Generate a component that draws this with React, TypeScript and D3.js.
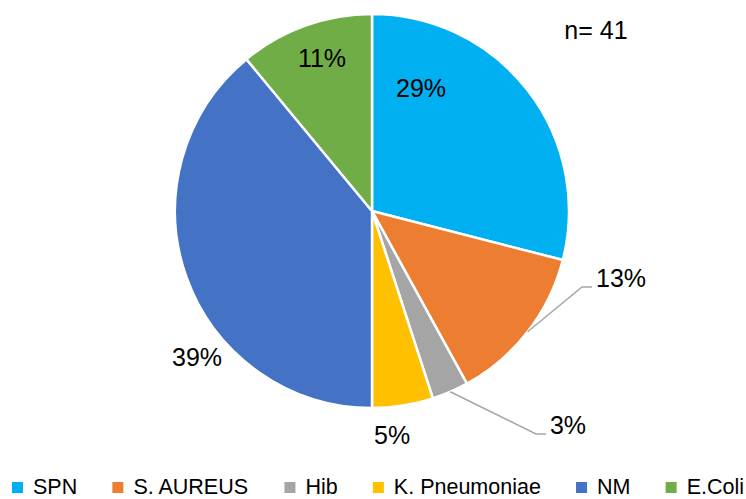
import React from "react";
import * as d3 from "d3";

const categories = ["SPN", "S. AUREUS", "Hib", "K. Pneumoniae", "NM", "E.Coli"];
const values = [29, 13, 3, 5, 39, 11];
const labels = ["29%", "13%", "3%", "5%", "39%", "11%"];
const colors = ["#00B0F0", "#ED7D31", "#A5A5A5", "#FFC000", "#4472C4", "#70AD47"];
// label positions relative to pie center, in units of radius
const labelOffsets: [number, number][] = [
  [0.249, -0.624],
  [1.264, 0.34],
  [0.995, 1.086],
  [0.102, 1.137],
  [-0.888, 0.741],
  [-0.254, -0.777],
];
const leaderFor = [false, true, true, false, false, false];
const sampleText = "n= 41";

const W = 746;
const H = 499;
const cx = 372;
const cy = 211;
const R = 197;
const FONT = "'Liberation Sans', Arial, sans-serif";

function measure(text: string, size: number): number {
  const c = document.createElement("canvas").getContext("2d");
  if (!c) return text.length * size * 0.55;
  c.font = `${size}px ${FONT}`;
  return c.measureText(text).width;
}

export default function App() {
  const pie = d3.pie<number>().value((d) => d).sort(null)(values);
  const arc = d3.arc<d3.PieArcDatum<number>>().innerRadius(0).outerRadius(R);
  const labelSize = 25;

  // legend layout
  const legendSize = 21.5;
  const box = 11;
  const gapBoxText = 10;
  const widths = categories.map((c) => measure(c, legendSize));
  const startX = 12;
  const endX = 744;
  const sumW = widths.reduce((a, w) => a + box + gapBoxText + w, 0);
  const gapItems = Math.max(16, (endX - startX - sumW) / (categories.length - 1));
  let x0 = startX;
  const legendItems = categories.map((c, i) => {
    const x = x0;
    x0 += box + gapBoxText + widths[i] + gapItems;
    return { c, x, color: colors[i] };
  });
  const legendBaseline = 494;

  return (
    <svg width={W} height={H} style={{ position: "absolute", left: 0, top: 0, background: "#fff" }} fontFamily={FONT}>
      <g transform={`translate(${cx},${cy})`}>
        {pie.map((p, i) => (
          <path key={i} d={arc(p) || ""} fill={colors[i]} stroke="#fff" strokeWidth={2.5} strokeLinejoin="round" />
        ))}
        {pie.map((p, i) => {
          if (!leaderFor[i]) return null;
          const mid = (p.startAngle + p.endAngle) / 2;
          const sx = Math.sin(mid) * R;
          const sy = -Math.cos(mid) * R;
          const lx = labelOffsets[i][0] * R;
          const ly = labelOffsets[i][1] * R;
          const w = measure(labels[i], labelSize);
          const left = lx - w / 2;
          const ey = ly + 9;
          return (
            <polyline
              key={"l" + i}
              points={`${sx},${sy} ${left - 14},${ey} ${left - 4},${ey}`}
              fill="none"
              stroke="#A6A6A6"
              strokeWidth={1.5}
            />
          );
        })}
        {labels.map((t, i) => (
          <text
            key={"t" + i}
            x={labelOffsets[i][0] * R}
            y={labelOffsets[i][1] * R}
            textAnchor="middle"
            dominantBaseline="central"
            fontSize={labelSize}
            fill="#000"
          >
            {t}
          </text>
        ))}
      </g>
      <text x={596} y={30} textAnchor="middle" dominantBaseline="central" fontSize={25} fill="#000">
        {sampleText}
      </text>
      <g>
        {legendItems.map((it, i) => (
          <g key={i}>
            <rect x={it.x} y={legendBaseline - 12} width={box} height={box} fill={it.color} />
            <text x={it.x + box + gapBoxText} y={legendBaseline} fontSize={legendSize} fill="#000">
              {it.c}
            </text>
          </g>
        ))}
      </g>
    </svg>
  );
}
